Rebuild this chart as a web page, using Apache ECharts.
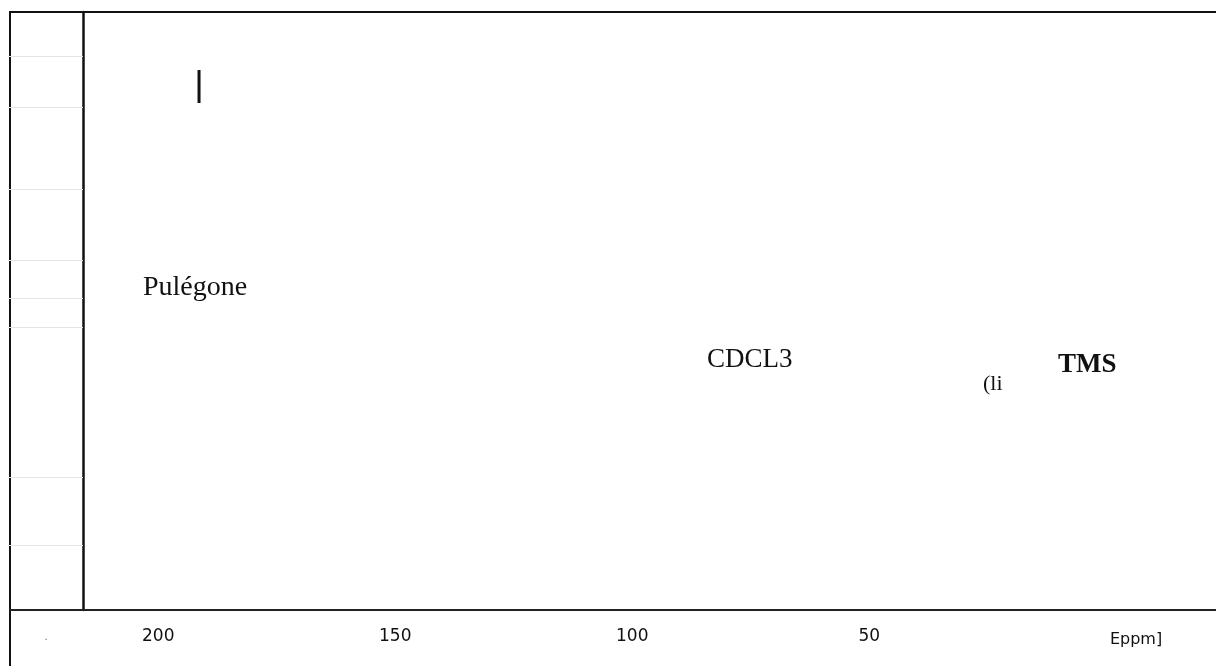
<!DOCTYPE html>
<html>
<head>
<meta charset="utf-8">
<script src="https://cdn.jsdelivr.net/npm/echarts@6/dist/echarts.min.js"></script>
<style>
  html, body { margin: 0; padding: 0; background: #fff; }
  #chart { width: 1216px; height: 666px; }
</style>
</head>
<body>
<div id="chart"></div>
<script>
// ---- data ----
const xTickValues = [200, 150, 100, 50];           // ppm tick labels
const xAxisName = 'Eppm]';
const peakSegments = [                              // [ppm, intensity-from, intensity-to]
  [191.4, 84.8, 90.3]
];
const yTickValues = [92.6, 84.1, 70.4, 58.5, 52.2, 47.3, 22.2, 10.9];
const annotations = ['Pulégone', 'CDCL3', '(li', 'TMS'];

const chart = echarts.init(document.getElementById('chart'), null, { renderer: 'canvas' });

const peakData = [];
peakSegments.forEach(p => { peakData.push([p[0], p[1]], [p[0], p[2]], null); });

chart.setOption({
  animation: false,
  backgroundColor: '#ffffff',
  grid: { left: 10, top: 12, right: 0, bottom: 56, show: false },
  xAxis: {
    type: 'value', inverse: true, min: -23.15, max: 231.28,
    axisLine: { show: true, onZero: false, lineStyle: { color: '#222', width: 2 } },
    axisTick: { show: false },
    splitLine: { show: false },
    axisLabel: { customValues: xTickValues, fontFamily: 'DejaVu Sans', fontSize: 17, color: '#111', margin: 18 }
  },
  yAxis: {
    type: 'value', min: 0, max: 100, position: 'left', offset: -73,
    axisLine: { show: true, onZero: false, lineStyle: { color: '#111', width: 2.5 } },
    axisTick: { show: true, customValues: yTickValues, inside: false, length: 75, lineStyle: { color: '#e4e4e4', width: 1 } },
    axisLabel: { show: false },
    splitLine: { show: false }
  },
  series: [{
    type: 'line', data: peakData, showSymbol: false, symbol: 'none', connectNulls: false,
    lineStyle: { color: '#111', width: 3 }
  }],
  graphic: [
    { type: 'polyline', shape: { points: [[10, 666], [10, 12], [1216, 12]] }, style: { stroke: '#111', lineWidth: 2, fill: null } },
    { type: 'text', x: 143, y: 288, style: { text: annotations[0], font: '28px "Liberation Serif"', fill: '#111', verticalAlign: 'middle' } },
    { type: 'text', x: 707, y: 360, style: { text: annotations[1], font: '27px "Liberation Serif"', fill: '#111', verticalAlign: 'middle' } },
    { type: 'text', x: 983, y: 384, style: { text: annotations[2], font: '22px "Liberation Serif"', fill: '#111', verticalAlign: 'middle' } },
    { type: 'text', x: 1058, y: 365, style: { text: annotations[3], font: 'bold 27px "Liberation Serif"', fill: '#111', verticalAlign: 'middle' } },
    { type: 'text', x: 1136, y: 640, style: { text: xAxisName, font: '16px "DejaVu Sans"', fill: '#111', align: 'center', verticalAlign: 'middle' } },
    { type: 'text', x: 46, y: 637, style: { text: '.', font: '10px "DejaVu Sans"', fill: '#666', align: 'center', verticalAlign: 'middle' } }
  ]
});
</script>
</body>
</html>
